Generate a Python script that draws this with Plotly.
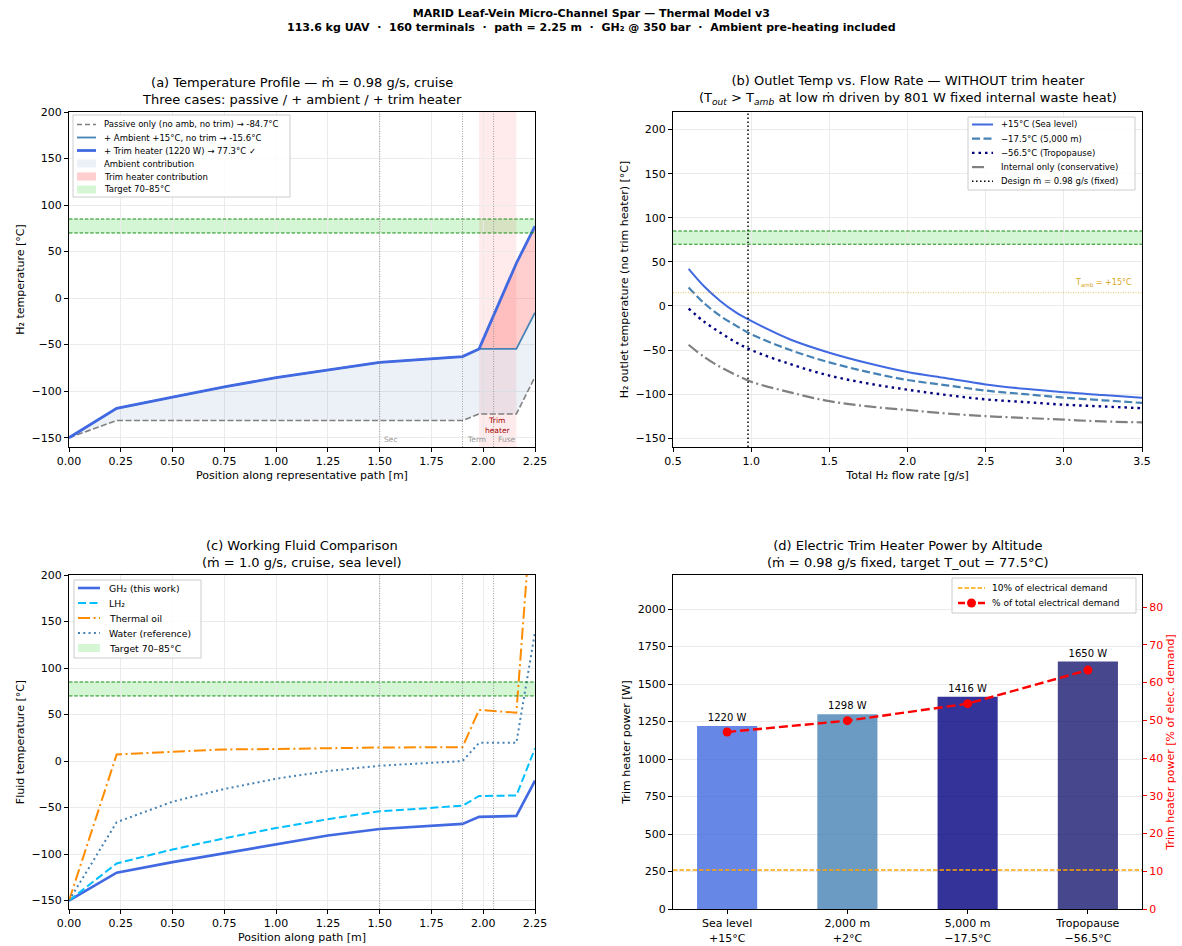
import plotly.graph_objects as go

W, H = 1182, 946
FONT = "DejaVu Sans"

# ---------------- data ----------------
# (a) temperature profile along representative path
pos_a = [0, 0.23, 0.5, 0.75, 1.0, 1.25, 1.5, 1.9, 1.98, 2.16, 2.25]
T_passive = [-150, -131.5, -131.5, -131.5, -131.5, -131.5, -131.5, -131.5, -124.5, -124.5, -84.7]
T_ambient = [-150, -118.5, -106.4, -95.5, -85.5, -77, -69, -62.8, -54.6, -54.6, -15.6]
T_trim = [-150, -118.5, -106.4, -95.5, -85.5, -77, -69, -62.8, -54.6, 37.5, 77.3]

# (b) outlet temperature vs flow rate
flow = [0.6, 0.7, 0.8, 0.9, 1.0, 1.25, 1.5, 1.75, 2.0, 2.25, 2.5, 2.75, 3.0, 3.25, 3.5]
T_sea = [42, 22, 6, -7, -17, -38, -53, -65, -75, -82, -89, -94, -98, -101, -104]
T_5000 = [21, 3, -11, -22, -32, -50, -64, -75, -84, -90, -96, -100, -104, -107, -110]
T_trop = [-3, -18, -30, -41, -50, -66, -79, -88, -95, -101, -106, -109, -112, -114, -116]
T_internal = [-44, -58, -69, -78, -86, -98, -108, -114, -118, -122, -125, -127, -129, -131, -132]
design_mdot = 0.98
T_amb = 15

# (c) working fluid comparison
pos_c = [0, 0.23, 0.5, 0.75, 1.0, 1.25, 1.5, 1.9, 1.98, 2.16, 2.25]
T_gh2 = [-150, -120, -108.6, -99, -89, -80, -73, -67.5, -60, -59, -21]
T_lh2 = [-150, -110, -95, -83, -72, -62.5, -54, -48, -37.5, -37, 13.6]
T_oil = [-150, 7, 10, 12.5, 13, 14, 14.6, 15, 55, 52, 318]
T_water = [-150, -65.7, -43.6, -30, -19, -10.7, -5, 0, 19.6, 19.6, 138.6]

# (d) trim heater power
alt_labels = ["Sea level<br>+15°C", "2,000 m<br>+2°C", "5,000 m<br>−17.5°C", "Tropopause<br>−56.5°C"]
trim_power = [1220, 1298, 1416, 1650]
trim_pct = [46.9, 49.9, 54.4, 63.3]
demand_10pct_W = 260

target_lo, target_hi = 70, 85
markers_pos = [1.5, 1.9, 2.05]
marker_names = ["Sec", "Term", "Fuse"]
heater_zone = [1.98, 2.16]

# ---------------- layout helpers ----------------
ML, MR, MT, MB = 40, 40, 50, 30
PW, PH = W - ML - MR, H - MT - MB

def fx(p):
    return (p - ML) / PW

def fy(p):
    return 1 - (p - MT) / PH

xa = [fx(69), fx(535)]
xb = [fx(673), fx(1142)]
ytop = [fy(447), fy(112)]
ybot = [fy(909), fy(575)]

# colours / styles
C_ROYAL = "#4169E1"
C_STEEL = "#4682B4"
C_NAVY = "#000080"
C_GRAY = "#808080"
C_SKY = "#00BFFF"
C_ORANGE = "#FF8C00"
FILL_AMB = "rgba(70,130,180,0.11)"
FILL_TRIM = "rgba(255,60,60,0.25)"
FILL_TARGET = "rgba(0,200,0,0.17)"

D_GRAYDASH = "6px,2.5px"
D_DASH2 = "8px,3.5px"
D_DOT_NAVY = "2.5px,4px"
D_DASHDOT = "12px,3.5px,2px,3.5px"
D_DOT2 = "2px,3.3px"
D_DOT_BLACK = "1.5px,2.5px"
D_GREEN = "3.5px,1.8px"
D_VLINE = "1px,1.5px"

fig = go.Figure()

# ---------- (a) ----------
fig.add_trace(go.Scatter(x=pos_a, y=T_passive, mode="lines", line=dict(width=0),
                         hoverinfo="skip", xaxis="x", yaxis="y"))
fig.add_trace(go.Scatter(x=pos_a, y=T_ambient, mode="lines", line=dict(width=0),
                         fill="tonexty", fillcolor=FILL_AMB, xaxis="x", yaxis="y"))
fig.add_trace(go.Scatter(x=pos_a, y=T_trim, mode="lines", line=dict(width=0),
                         fill="tonexty", fillcolor=FILL_TRIM, xaxis="x", yaxis="y"))
fig.add_trace(go.Scatter(x=pos_a, y=T_passive, mode="lines",
                         line=dict(color=C_GRAY, width=1.6, dash=D_GRAYDASH), xaxis="x", yaxis="y"))
fig.add_trace(go.Scatter(x=pos_a, y=T_ambient, mode="lines",
                         line=dict(color=C_STEEL, width=1.8), xaxis="x", yaxis="y"))
fig.add_trace(go.Scatter(x=pos_a, y=T_trim, mode="lines",
                         line=dict(color=C_ROYAL, width=2.8), xaxis="x", yaxis="y"))

# ---------- (b) ----------
fig.add_trace(go.Scatter(x=flow, y=T_sea, mode="lines", line=dict(color=C_ROYAL, width=2, shape="spline"),
                         xaxis="x2", yaxis="y2"))
fig.add_trace(go.Scatter(x=flow, y=T_5000, mode="lines", line=dict(color=C_STEEL, width=2.2, dash=D_DASH2, shape="spline"),
                         xaxis="x2", yaxis="y2"))
fig.add_trace(go.Scatter(x=flow, y=T_trop, mode="lines", line=dict(color=C_NAVY, width=2.4, dash=D_DOT_NAVY, shape="spline"),
                         xaxis="x2", yaxis="y2"))
fig.add_trace(go.Scatter(x=flow, y=T_internal, mode="lines", line=dict(color=C_GRAY, width=2.2, dash=D_DASHDOT, shape="spline"),
                         xaxis="x2", yaxis="y2"))
fig.add_trace(go.Scatter(x=[design_mdot, design_mdot], y=[-160, 220], mode="lines",
                         line=dict(color="black", width=1.5, dash=D_DOT_BLACK), xaxis="x2", yaxis="y2"))

# ---------- (c) ----------
fig.add_trace(go.Scatter(x=pos_c, y=T_gh2, mode="lines", line=dict(color=C_ROYAL, width=2.6),
                         xaxis="x3", yaxis="y3"))
fig.add_trace(go.Scatter(x=pos_c, y=T_lh2, mode="lines", line=dict(color=C_SKY, width=2, dash=D_DASH2),
                         xaxis="x3", yaxis="y3"))
fig.add_trace(go.Scatter(x=pos_c, y=T_oil, mode="lines", line=dict(color=C_ORANGE, width=2, dash=D_DASHDOT),
                         xaxis="x3", yaxis="y3"))
fig.add_trace(go.Scatter(x=pos_c, y=T_water, mode="lines", line=dict(color=C_STEEL, width=2, dash=D_DOT2),
                         xaxis="x3", yaxis="y3"))

# ---------- (d) ----------
bar_colors = ["rgba(65,105,225,0.8)", "rgba(70,130,180,0.8)", "rgba(0,0,128,0.8)", "rgba(25,25,112,0.8)"]
xcat = list(range(len(trim_power)))
fig.add_trace(go.Bar(x=xcat, y=trim_power, width=0.5, marker=dict(color=bar_colors, line=dict(width=0)),
                     text=[f"{v} W" for v in trim_power], textposition="outside",
                     textfont=dict(size=10, color="black", family=FONT), cliponaxis=False,
                     xaxis="x4", yaxis="y4"))
fig.add_trace(go.Scatter(x=[-0.45, 3.45], y=[demand_10pct_W, demand_10pct_W], mode="lines",
                         line=dict(color="orange", width=1.3, dash="4.5px,2px"), xaxis="x4", yaxis="y4"))
fig.add_trace(go.Scatter(x=xcat, y=trim_pct, mode="lines+markers",
                         line=dict(color="red", width=2.4, dash="9px,4px"),
                         marker=dict(size=9, color="red"), xaxis="x4", yaxis="y5"))

# ---------------- shapes ----------------
shapes = []
for xr, yr in [("x", "y"), ("x2", "y2"), ("x3", "y3")]:
    shapes.append(dict(type="rect", xref=f"{xr} domain", yref=yr, x0=0, x1=1, y0=target_lo, y1=target_hi,
                       fillcolor=FILL_TARGET, line=dict(width=0), layer="below"))
    for yv in (target_lo, target_hi):
        shapes.append(dict(type="line", xref=f"{xr} domain", yref=yr, x0=0, x1=1, y0=yv, y1=yv,
                           line=dict(color="green", width=0.9, dash=D_GREEN)))
shapes.append(dict(type="rect", xref="x", yref="y domain", x0=heater_zone[0], x1=heater_zone[1], y0=0, y1=1,
                   fillcolor="rgba(255,0,0,0.08)", line=dict(width=0), layer="below"))
for xr, yr in [("x", "y"), ("x3", "y3")]:
    for p in markers_pos:
        shapes.append(dict(type="line", xref=xr, yref=f"{yr} domain", x0=p, x1=p, y0=0, y1=1,
                           line=dict(color="#888888", width=0.8, dash=D_VLINE)))
shapes.append(dict(type="line", xref="x2 domain", yref="y2", x0=0, x1=1, y0=T_amb, y1=T_amb,
                   line=dict(color="rgba(218,165,32,0.7)", width=1, dash=D_VLINE)))

# ---------------- annotations ----------------
ann = []
ann.append(dict(text="<b>MARID Leaf-Vein Micro-Channel Spar — Thermal Model v3</b><br>"
                     "<b>113.6 kg UAV  ·  160 terminals  ·  path = 2.25 m  ·  GH₂ @ 350 bar  ·  Ambient pre-heating included</b>",
                xref="paper", yref="paper", x=fx(591), y=fy(5), yanchor="top", xanchor="center",
                showarrow=False, font=dict(size=11, family=FONT, color="black")))
titles = [
    ("(a) Temperature Profile — ṁ = 0.98 g/s, cruise<br>Three cases: passive / + ambient / + trim heater", xa, ytop),
    ("(b) Outlet Temp vs. Flow Rate — WITHOUT trim heater<br>(T<sub><i>out</i></sub> > T<sub><i>amb</i></sub> at low ṁ driven by 801 W fixed internal waste heat)", xb, ytop),
    ("(c) Working Fluid Comparison<br>(ṁ = 1.0 g/s, cruise, sea level)", xa, ybot),
    ("(d) Electric Trim Heater Power by Altitude<br>(ṁ = 0.98 g/s fixed, target T_out = 77.5°C)", xb, ybot),
]
for t, xd, yd in titles:
    ann.append(dict(text=t, xref="paper", yref="paper", x=(xd[0] + xd[1]) / 2, y=yd[1],
                    xanchor="center", yanchor="bottom", yshift=3, showarrow=False,
                    font=dict(size=13, family=FONT, color="black")))
for p, nm in zip(markers_pos, marker_names):
    ann.append(dict(text=nm, xref="x", yref="y", x=p + 0.012, y=-152, xanchor="left", yanchor="middle",
                    showarrow=False, font=dict(size=7.5, family=FONT, color="#999999")))
ann.append(dict(text="Trim<br>heater", xref="x", yref="y", x=2.07, y=-137, xanchor="center", yanchor="middle",
                showarrow=False, font=dict(size=7.5, family=FONT, color="#a00000")))
ann.append(dict(text="T<sub>amb</sub> = +15°C", xref="x2", yref="y2", x=3.45, y=T_amb + 3, xanchor="right",
                yanchor="bottom", showarrow=False, font=dict(size=8, family=FONT, color="#DAA520")))

# ---------------- manual legends (matplotlib-like compact boxes) ----------------
def legend_box(x0, y0, x1, y1, rows, row0, dy, sym_x0, sym_x1, text_x, fsize):
    shapes.append(dict(type="rect", xref="paper", yref="paper", x0=fx(x0), x1=fx(x1), y0=fy(y1), y1=fy(y0),
                       fillcolor="rgba(255,255,255,0.85)", line=dict(color="#cccccc", width=1)))
    for i, (kind, style, label) in enumerate(rows):
        yc = row0 + i * dy
        if kind == "line":
            shapes.append(dict(type="line", xref="paper", yref="paper", x0=fx(sym_x0), x1=fx(sym_x1),
                               y0=fy(yc), y1=fy(yc),
                               line=dict(color=style["color"], width=style["width"], dash=style.get("dash", "solid"))))
            if style.get("marker"):
                xm = (sym_x0 + sym_x1) / 2
                r = 4.5
                shapes.append(dict(type="circle", xref="paper", yref="paper", x0=fx(xm - r), x1=fx(xm + r),
                                   y0=fy(yc + r), y1=fy(yc - r), fillcolor=style["color"],
                                   line=dict(color=style["color"], width=0)))
        else:
            shapes.append(dict(type="rect", xref="paper", yref="paper", x0=fx(sym_x0), x1=fx(sym_x1),
                               y0=fy(yc + 4), y1=fy(yc - 4), fillcolor=style, line=dict(width=0)))
        ann.append(dict(text=label, xref="paper", yref="paper", x=fx(text_x), y=fy(yc), xanchor="left",
                        yanchor="middle", showarrow=False, font=dict(size=fsize, family=FONT, color="black")))

legend_box(73, 115, 290, 197, [
    ("line", dict(color=C_GRAY, width=1.6, dash="5px,3px"), "Passive only (no amb, no trim) → -84.7°C"),
    ("line", dict(color=C_STEEL, width=1.8), "+ Ambient +15°C, no trim → -15.6°C"),
    ("line", dict(color=C_ROYAL, width=2.8), "+ Trim heater (1220 W) → 77.3°C ✓"),
    ("patch", FILL_AMB, "Ambient contribution"),
    ("patch", FILL_TRIM, "Trim heater contribution"),
    ("patch", FILL_TARGET, "Target 70–85°C"),
], 124.5, 13, 77, 96, 102, 8.5)

legend_box(968, 117, 1135, 190, [
    ("line", dict(color=C_ROYAL, width=2), "+15°C (Sea level)"),
    ("line", dict(color=C_STEEL, width=2.2, dash=D_DASH2), "−17.5°C (5,000 m)"),
    ("line", dict(color=C_NAVY, width=2.4, dash=D_DOT_NAVY), "−56.5°C (Tropopause)"),
    ("line", dict(color=C_GRAY, width=2.2, dash="12px,9px"), "Internal only (conservative)"),
    ("line", dict(color="black", width=1.5, dash=D_DOT_BLACK), "Design ṁ = 0.98 g/s (fixed)"),
], 124.5, 14.2, 972, 993, 999, 8.5)

legend_box(74, 580, 201, 658, [
    ("line", dict(color=C_ROYAL, width=2.6), "GH₂ (this work)"),
    ("line", dict(color=C_SKY, width=2, dash=D_DASH2), "LH₂"),
    ("line", dict(color=C_ORANGE, width=2, dash=D_DASHDOT), "Thermal oil"),
    ("line", dict(color=C_STEEL, width=2, dash=D_DOT2), "Water (reference)"),
    ("patch", FILL_TARGET, "Target 70–85°C"),
], 588, 15, 78, 100, 107, 9.3)

legend_box(952, 578, 1136, 613, [
    ("line", dict(color="orange", width=1.3, dash="4.5px,2px"), "10% of electrical demand"),
    ("line", dict(color="red", width=2.4, dash="7px,3px", marker=True), "% of total electrical demand"),
], 588, 15, 958, 985, 990, 9)

# ---------------- axes ----------------
GRID = "#ebebeb"
def axis(**kw):
    base = dict(showline=True, linecolor="black", linewidth=1, mirror=True, ticks="outside",
                ticklen=4, tickcolor="black", showgrid=True, gridcolor=GRID, gridwidth=0.8,
                zeroline=False, tickfont=dict(size=11, family=FONT, color="black"),
                title_font=dict(size=11, family=FONT, color="black"), title_standoff=4,
                automargin=False)
    base.update(kw)
    return base

pos_ticks = [0, 0.25, 0.5, 0.75, 1.0, 1.25, 1.5, 1.75, 2.0, 2.25]
temp_ticks = [-150, -100, -50, 0, 50, 100, 150, 200]

fig.update_layout(
    width=W, height=H, margin=dict(l=ML, r=MR, t=MT, b=MB, autoexpand=False),
    paper_bgcolor="white", plot_bgcolor="white", showlegend=False,
    font=dict(family=FONT, color="black"),
    shapes=shapes, annotations=ann,
    xaxis=axis(domain=xa, anchor="y", range=[0, 2.25], tickvals=pos_ticks, tickformat=".2f",
               title_text="Position along representative path [m]"),
    yaxis=axis(domain=ytop, anchor="x", range=[-160, 200], tickvals=temp_ticks,
               title_text="H₂ temperature [°C]"),
    xaxis2=axis(domain=xb, anchor="y2", range=[0.5, 3.5], tickvals=[0.5, 1.0, 1.5, 2.0, 2.5, 3.0, 3.5],
                tickformat=".1f", title_text="Total H₂ flow rate [g/s]"),
    yaxis2=axis(domain=ytop, anchor="x2", range=[-160, 220], tickvals=temp_ticks,
                title_text="H₂ outlet temperature (no trim heater) [°C]"),
    xaxis3=axis(domain=xa, anchor="y3", range=[0, 2.25], tickvals=pos_ticks, tickformat=".2f",
                title_text="Position along path [m]"),
    yaxis3=axis(domain=ybot, anchor="x3", range=[-159, 200], tickvals=temp_ticks,
                title_text="Fluid temperature [°C]"),
    xaxis4=axis(domain=xb, anchor="y4", range=[-0.45, 3.45], tickvals=xcat, ticktext=alt_labels,
                showgrid=False),
    yaxis4=axis(domain=ybot, anchor="x4", range=[0, 2227], tickvals=list(range(0, 2001, 250)),
                mirror=False, title_text="Trim heater power [W]"),
    yaxis5=dict(overlaying="y4", side="right", anchor="x4", range=[0, 88.5],
                tickvals=list(range(0, 81, 10)), showline=True, linecolor="black", linewidth=1,
                ticks="outside", ticklen=4, tickcolor="red", showgrid=False, zeroline=False,
                automargin=False,
                tickfont=dict(size=11, family=FONT, color="red"),
                title=dict(text="Trim heater power [% of elec. demand]",
                           font=dict(size=11, family=FONT, color="red"), standoff=4)),
)

fig.write_html("out.html", config={"displayModeBar": False},
               post_script="document.body.style.margin='0px';document.body.style.overflow='hidden';")
